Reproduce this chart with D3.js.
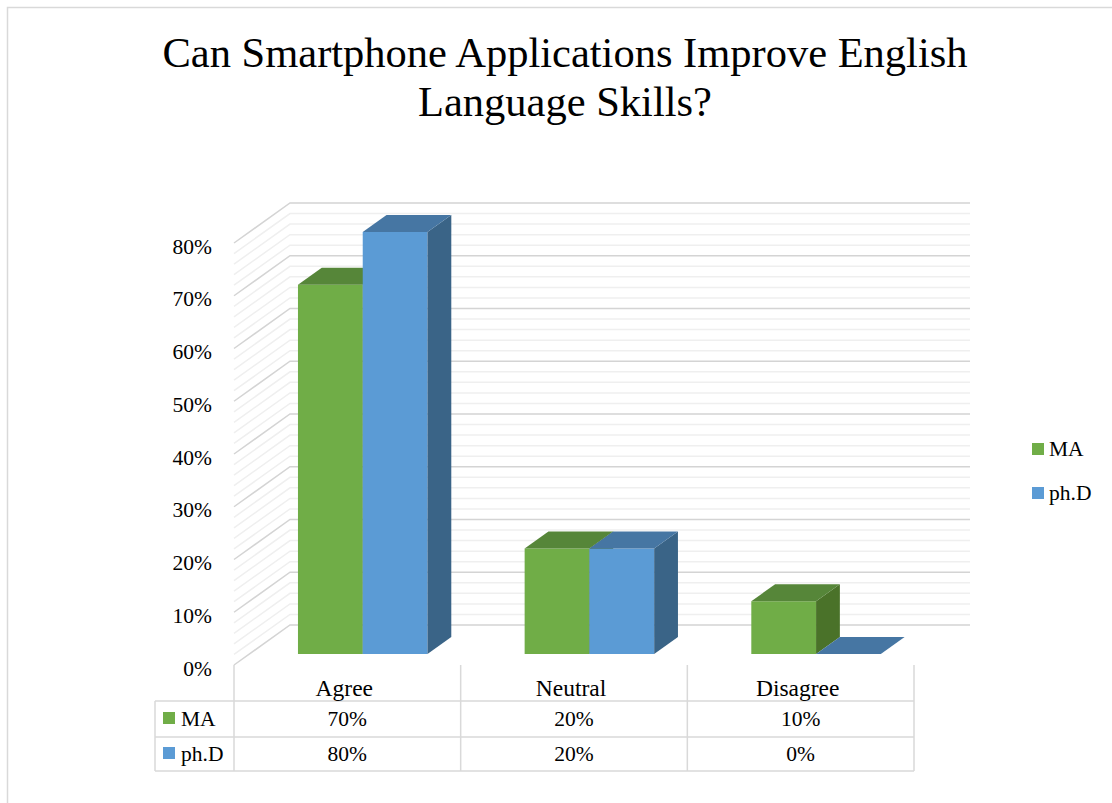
<!DOCTYPE html>
<html>
<head>
<meta charset="utf-8">
<script src="https://cdn.jsdelivr.net/npm/d3@7"></script>
<style>
  html, body { margin: 0; padding: 0; background: #fff; }
  svg { display: block; }
  text { font-family: "Liberation Serif", "Times New Roman", serif; fill: #000; }
</style>
</head>
<body>
<svg id="chart" width="1112" height="803"></svg>
<script>
// Survey answers by respondent group
const categories = ["Agree", "Neutral", "Disagree"];
const seriesNames = ["MA", "ph.D"];
const maValues = [0.70, 0.20, 0.10];
const phdValues = [0.80, 0.20, 0.00];
const yTicks = [0, 0.1, 0.2, 0.3, 0.4, 0.5, 0.6, 0.7, 0.8];
const titleLines = ["Can Smartphone Applications Improve English", "Language Skills?"];

const seriesValues = [maValues, phdValues];
const colors = {
  "MA":   { front: "#70AD47", top: "#568639", side: "#4A7229" },
  "ph.D": { front: "#5B9BD5", top: "#4676A3", side: "#3A6487" }
};

const svg = d3.select("#chart");
const fmt = d3.format(".0%");

// Outer frame
svg.append("rect")
  .attr("x", 7.5).attr("y", 7.5)
  .attr("width", 1112).attr("height", 803)
  .attr("fill", "none").attr("stroke", "#d9d9d9").attr("stroke-width", 1.5);

// Title
svg.append("text")
  .attr("x", 565).attr("y", 67)
  .attr("text-anchor", "middle")
  .style("font-size", "42.5px")
  .selectAll("tspan").data(titleLines).join("tspan")
  .attr("x", 565)
  .attr("dy", (d, i) => i === 0 ? 0 : 49)
  .text(d => d);

// 3D projection: front plane plus a receding depth offset
const DX = 56, DY = -40;
const x = d3.scaleBand().domain(categories).range([234, 914]).paddingInner(0).paddingOuter(0);
const y = d3.scaleLinear().domain([0, 0.8]).range([665, 243]);
const xs = d3.scaleBand().domain(seriesNames).range([0, x.bandwidth()]).paddingInner(0).paddingOuter(0.75);
const proj = (px, v, d) => [px + DX * d, y(v) + DY * d];

// Wall gridlines (minor every 2%, major every 10%)
const gridVals = d3.range(0, 41).map(i => i * 0.02);
const grid = svg.append("g");
gridVals.forEach((v, i) => {
  const major = i % 5 === 0;
  const stroke = major ? "#d4d4d4" : "#efefef";
  const [lx0, ly0] = proj(x.range()[0], v, 0);
  const [lx1, ly1] = proj(x.range()[0], v, 1);
  const [rx1, ry1] = proj(x.range()[1], v, 1);
  grid.append("path")
    .attr("d", `M${lx0},${ly0}L${lx1},${ly1}L${rx1},${ry1}`)
    .attr("fill", "none")
    .attr("stroke", stroke)
    .attr("stroke-width", 1.5);
});

// Value axis labels
svg.append("g").selectAll("text").data(yTicks).join("text")
  .attr("x", 212)
  .attr("y", d => y(d) + 10.5)
  .attr("text-anchor", "end")
  .style("font-size", "21.5px")
  .text(d => fmt(d));

// Bars: front face, top face, right side face
const D0 = 0.275, D1 = 0.7;
const barsG = svg.append("g");
categories.forEach((cat, ci) => {
  seriesNames.forEach((s, si) => {
    const v = seriesValues[si][ci];
    const xl = x(cat) + xs(s);
    const xr = xl + xs.bandwidth();
    const c = colors[s];
    const p = (px, val, d) => proj(px, val, d).join(",");
    const g = barsG.append("g");
    if (v > 0) {
      g.append("path")
        .attr("d", `M${p(xl, 0, D0)}L${p(xr, 0, D0)}L${p(xr, v, D0)}L${p(xl, v, D0)}Z`)
        .attr("fill", c.front);
      g.append("path")
        .attr("d", `M${p(xr, 0, D0)}L${p(xr, 0, D1)}L${p(xr, v, D1)}L${p(xr, v, D0)}Z`)
        .attr("fill", c.side);
    }
    g.append("path")
      .attr("d", `M${p(xl, v, D0)}L${p(xr, v, D0)}L${p(xr, v, D1)}L${p(xl, v, D1)}Z`)
      .attr("fill", c.top);
  });
});

// Data table below the plot
const tbl = svg.append("g");
const lineColor = "#d9d9d9";
const rowY = [665, 701, 737, 771];
const colX = [x.range()[0], ...categories.map(c => x(c) + x.bandwidth())];
colX.forEach(cx => {
  tbl.append("line").attr("x1", cx).attr("x2", cx).attr("y1", rowY[0]).attr("y2", rowY[3])
    .attr("stroke", lineColor).attr("stroke-width", 1.5);
});
tbl.append("line").attr("x1", 155).attr("x2", 155).attr("y1", rowY[1]).attr("y2", rowY[3])
  .attr("stroke", lineColor).attr("stroke-width", 1.5);
[rowY[1], rowY[2], rowY[3]].forEach(ry => {
  tbl.append("line").attr("x1", 155).attr("x2", colX[colX.length - 1]).attr("y1", ry).attr("y2", ry)
    .attr("stroke", lineColor).attr("stroke-width", 1.5);
});
tbl.selectAll("text.cat").data(categories).join("text")
  .attr("class", "cat")
  .attr("x", d => x(d) + x.bandwidth() / 2 - 3)
  .attr("y", 696)
  .attr("text-anchor", "middle")
  .style("font-size", "23.5px")
  .text(d => d);
seriesNames.forEach((s, si) => {
  const base = si === 0 ? 726 : 761;
  tbl.append("rect").attr("x", 163).attr("y", base - 14).attr("width", 12).attr("height", 12)
    .attr("fill", colors[s].front);
  tbl.append("text").attr("x", 181).attr("y", base).style("font-size", "21.5px").text(s);
  tbl.selectAll(null).data(seriesValues[si]).join("text")
    .attr("x", (d, i) => x(categories[i]) + x.bandwidth() / 2)
    .attr("y", base)
    .attr("text-anchor", "middle")
    .style("font-size", "21.5px")
    .text(d => fmt(d));
});

// Legend
const legend = svg.append("g");
seriesNames.forEach((s, si) => {
  const base = si === 0 ? 456 : 500;
  legend.append("rect").attr("x", 1032).attr("y", base - 13).attr("width", 12).attr("height", 12)
    .attr("fill", colors[s].front);
  legend.append("text").attr("x", 1049).attr("y", base).style("font-size", "21.5px").text(s);
});
</script>
</body>
</html>
